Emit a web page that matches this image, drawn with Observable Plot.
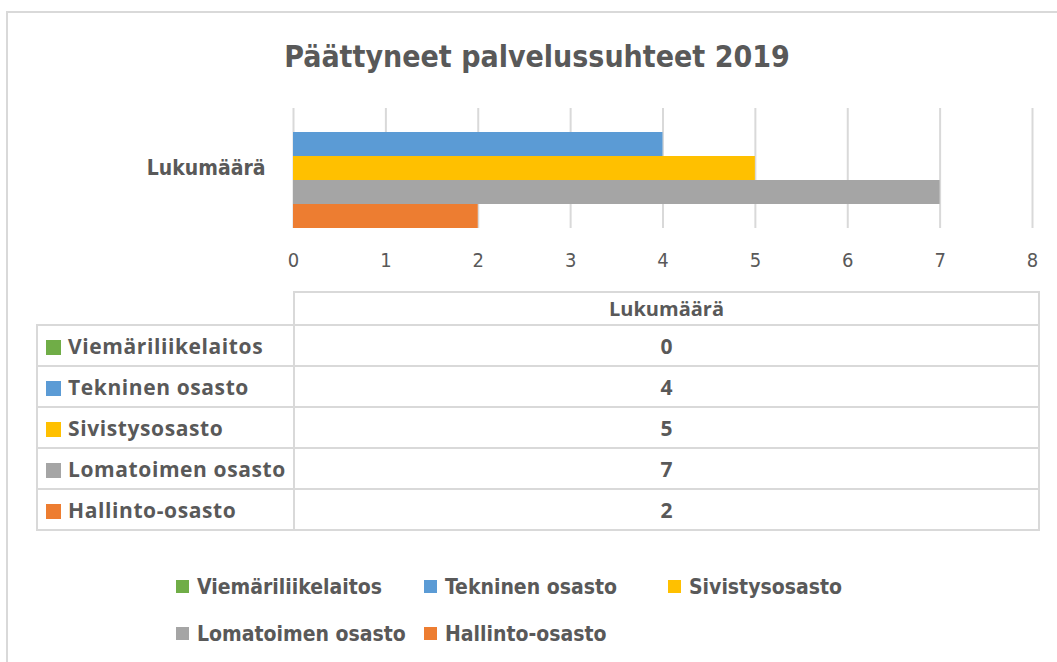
<!DOCTYPE html>
<html><head><meta charset="utf-8">
<script src="https://cdn.jsdelivr.net/npm/d3@7"></script>
<script src="https://cdn.jsdelivr.net/npm/@observablehq/plot@0.6"></script>
<style>
body{margin:0;width:1057px;height:662px;overflow:hidden;background:#fff;position:relative;color:#595959;font-family:"DejaVu Sans Condensed",sans-serif}
#frame{position:absolute;left:6px;top:11px;width:1200px;height:800px;border:2px solid #d9d9d9;box-sizing:border-box}
#title{position:absolute;left:0;width:1074px;top:36px;line-height:42px;text-align:center;font-size:30px;font-weight:bold;color:#595959}
#chart{position:absolute;left:0;top:90px}
#table{position:absolute;left:36px;top:291px;border-collapse:collapse;table-layout:fixed;font-family:"Open Sans",sans-serif;font-weight:bold;font-size:21px;color:#595959}
#table td{border:2px solid #d9d9d9;padding:0;height:39px;white-space:nowrap;overflow:hidden}
#table tr.head td{height:31px}
#table td.blank{border-top:none;border-left:none}
#table td.val{text-align:center}
#table td.head{text-align:center;font-weight:bold;font-size:20px}
#table td.lab{padding-left:8px;letter-spacing:0.6px}
.sw{display:inline-block;width:15px;height:15px;margin-right:7px;vertical-align:-1px}
#legend{position:absolute;left:176px;top:563px;display:grid;grid-template-columns:248px 244px auto;grid-auto-rows:47px;font-size:21px;font-weight:bold;color:#595959}
#legend .item{display:flex;align-items:center;white-space:nowrap}
#legend .sq{width:13px;height:13px;margin-right:8px}
</style></head>
<body>
<div id="frame"></div>
<div id="title">Päättyneet palvelussuhteet 2019</div>
<div id="chart"></div>
<table id="table"></table>
<div id="legend"></div>
<script>
const categories = ["Lukumäärä"];
const series = ["Viemäriliikelaitos", "Tekninen osasto", "Sivistysosasto", "Lomatoimen osasto", "Hallinto-osasto"];
const values = [0, 4, 5, 7, 2];
const colors = ["#70AD47", "#5B9BD5", "#FFC000", "#A5A5A5", "#ED7D31"];
const xTicks = [0, 1, 2, 3, 4, 5, 6, 7, 8];

const rows = series.map((s, i) => ({category: categories[0], series: s, value: values[i]}));
const font = '"DejaVu Sans Condensed",sans-serif';

const chart = Plot.plot({
  width: 1057, height: 183,
  marginTop: 18, marginBottom: 45, marginLeft: 293, marginRight: 25,
  style: {fontFamily: font, fontSize: "20px", color: "#595959", background: "transparent", overflow: "visible"},
  x: {domain: [0, 8]},
  y: {domain: series, padding: 0, axis: null},
  fy: {domain: categories, padding: 0},
  color: {domain: series, range: colors},
  marks: [
    Plot.gridX(xTicks, {stroke: "#d9d9d9", strokeOpacity: 1, strokeWidth: 2}),
    Plot.barX(rows, {x: "value", y: "series", fy: "category", fill: "series"}),
    Plot.axisX({ticks: xTicks, tickSize: 0, tickPadding: 24, label: null, fill: "#595959"}),
    Plot.axisFy({anchor: "left", tickSize: 0, tickPadding: 28, label: null, fontWeight: "bold", fontSize: 21, fill: "#595959"})
  ]
});
document.getElementById("chart").appendChild(chart);

// data table
const table = document.getElementById("table");
const colgroup = document.createElement("colgroup");
colgroup.innerHTML = '<col style="width:257px"><col style="width:745px">';
table.appendChild(colgroup);
const head = document.createElement("tr");
head.className = "head";
head.innerHTML = '<td class="blank"></td><td class="head">' + categories[0] + '</td>';
table.appendChild(head);
series.forEach((s, i) => {
  const tr = document.createElement("tr");
  tr.innerHTML = '<td class="lab"><span class="sw" style="background:' + colors[i] + '"></span>' + s +
    '</td><td class="val">' + values[i] + '</td>';
  table.appendChild(tr);
});

// legend
const legend = document.getElementById("legend");
series.forEach((s, i) => {
  const d = document.createElement("div");
  d.className = "item";
  d.innerHTML = '<span class="sq" style="background:' + colors[i] + '"></span><span>' + s + '</span>';
  legend.appendChild(d);
});
</script>
</body></html>
